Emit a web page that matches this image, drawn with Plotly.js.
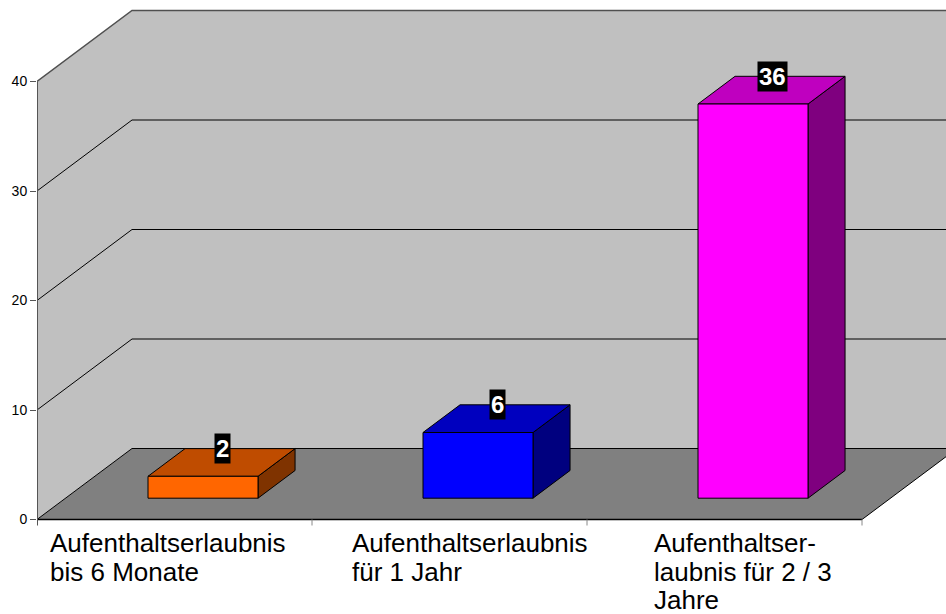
<!DOCTYPE html>
<html>
<head>
<meta charset="utf-8">
<script src="https://cdn.plot.ly/plotly-3.0.1.min.js"></script>
<style>html,body{margin:0;padding:0;background:#fff;}#chart{width:946px;height:614px;}</style>
</head>
<body>
<div id="chart"></div>
<script>
// ---- data ----
const categoryLines = [
  ["Aufenthaltserlaubnis", "bis 6 Monate"],
  ["Aufenthaltserlaubnis", "für 1 Jahr"],
  ["Aufenthaltser-", "laubnis für 2 / 3", "Jahre"]
];
const values = [2, 6, 36];
const yTickVals = [0, 10, 20, 30, 40];
const yMaxValue = 40;

// ---- styles / geometry ----
const frontColors = ["#ff6600", "#0000ff", "#ff00ff"];
const topColors   = ["#bf4c00", "#0000bf", "#bf00bf"];
const sideColors  = ["#7f3300", "#00007f", "#7f007f"];
const W = 946, H = 614;
const marginL = 37;
const catPx = 275;             // px per category on the front plane
const zeroPx = 519.5;          // pixel row of value 0 on front plane
const unitPx = 10.95;          // px per value unit
const depthPxX = 95, depthPxY = 71;
const DX = depthPxX / catPx;   // depth offset in x units
const DY = depthPxY / unitPx;  // depth offset in y units
const xMax = (W - marginL) / catPx;
const yMin = -(H - zeroPx) / unitPx;
const yMax = zeroPx / unitPx;
const nCat = values.length;
const barX0 = 0.3, barX1 = 0.7, barD0 = 0.3, barD1 = 0.69;

function P(x, v, d) { return [x + d * DX, v + d * DY]; }
function poly(pts) {
  const xs = [], ys = [];
  pts.forEach(p => { xs.push(p[0]); ys.push(p[1]); });
  xs.push(pts[0][0]); ys.push(pts[0][1]);
  return {x: xs, y: ys};
}
function face(pts, fill, lineColor, lw) {
  const p = poly(pts);
  return {x: p.x, y: p.y, type: "scatter", mode: "lines", fill: "toself",
          fillcolor: fill, line: {color: lineColor, width: lw}, hoverinfo: "skip", showlegend: false};
}
function path(pts, color, width) {
  const xs = [], ys = [];
  pts.forEach(p => { if (p === null) { xs.push(null); ys.push(null); } else { xs.push(p[0]); ys.push(p[1]); } });
  return {x: xs, y: ys, type: "scatter", mode: "lines", line: {color: color, width: width},
          hoverinfo: "skip", showlegend: false};
}

const traces = [];
// left wall
traces.push(face([P(0,0,0), P(0,yMaxValue,0), P(0,yMaxValue,1), P(0,0,1)], "#c0c0c0", "rgba(0,0,0,0)", 0));
// back wall
traces.push(face([P(0,0,1), P(0,yMaxValue,1), P(nCat,yMaxValue,1), P(nCat,0,1)], "#c0c0c0", "rgba(0,0,0,0)", 0));
// floor
traces.push(face([P(0,0,0), P(nCat,0,0), P(nCat,0,1), P(0,0,1)], "#808080", "rgba(0,0,0,0)", 0));
// gridlines
const gridPts = [];
yTickVals.filter(v => v > 0 && v < yMaxValue).forEach(v => {
  gridPts.push(P(0,v,0), P(0,v,1), P(nCat,v,1), null);
});
traces.push(path(gridPts, "#000", 1));
// top edge
traces.push(path([P(0,yMaxValue,0), P(0,yMaxValue,1), P(nCat,yMaxValue,1)], "#505050", 1.5));
// floor edges
traces.push(path([P(0,0,0), P(0,0,1), P(nCat,0,1), null, P(nCat,0,0), P(nCat,0,1)], "#000", 1));
traces.push(path([P(0,0,0), P(nCat,0,0)], "#000", 1.5));

// bars
values.forEach((v, i) => {
  const x0 = i + barX0, x1 = i + barX1;
  traces.push(face([P(x1,0,barD0), P(x1,0,barD1), P(x1,v,barD1), P(x1,v,barD0)], sideColors[i], "#000", 1));
  traces.push(face([P(x0,v,barD0), P(x1,v,barD0), P(x1,v,barD1), P(x0,v,barD1)], topColors[i], "#000", 1));
  traces.push(face([P(x0,0,barD0), P(x1,0,barD0), P(x1,v,barD0), P(x0,v,barD0)], frontColors[i], "#000", 1));
});

// axis line and category ticks
const tickUnits = 6 / unitPx;
traces.push(path([[0, -tickUnits], P(0,yMaxValue,0)], "#555", 2));
const catTicks = [];
for (let k = 1; k <= nCat; k++) { catTicks.push([k, 0], [k, -tickUnits], null); }
traces.push(path(catTicks, "#888", 1));

// annotations
const annotations = [];
values.forEach((v, i) => {
  const c = P(i + 0.5, v, 0.5);
  annotations.push({
    x: c[0], y: v + barD1 * DY, xref: "x", yref: "y",
    text: "<b>" + v + "</b>", showarrow: false,
    font: {family: "Liberation Sans, Arial, sans-serif", size: 24, color: "#fff"},
    bgcolor: "#000", borderpad: 1, xanchor: "center", yanchor: "middle"
  });
});
const labelLeftPx = [47.5, 349.5, 652];
const labelLine1CenterPx = 543;
const labelLineStepPx = 28.5;
categoryLines.forEach((lines, i) => {
  lines.forEach((t, j) => {
    const py = labelLine1CenterPx + j * labelLineStepPx;
    annotations.push({
      x: (labelLeftPx[i] - marginL) / catPx, xref: "x",
      y: (zeroPx - py) / unitPx, yref: "y",
      text: t, showarrow: false, xanchor: "left", yanchor: "middle",
      font: {family: "Liberation Sans, Arial, sans-serif", size: 26, color: "#000"}
    });
  });
});

const layout = {
  width: W, height: H,
  margin: {l: marginL, r: 0, t: 0, b: 0, pad: 0},
  paper_bgcolor: "#fff", plot_bgcolor: "rgba(0,0,0,0)",
  showlegend: false,
  xaxis: {range: [0, xMax], visible: false, fixedrange: true},
  yaxis: {range: [yMin, yMax], tickvals: yTickVals, ticktext: yTickVals.map(String),
          ticks: "outside", ticklen: 6, tickcolor: "#555", tickwidth: 1,
          showgrid: false, zeroline: false, showline: false, fixedrange: true,
          tickfont: {family: "Liberation Sans, Arial, sans-serif", size: 14, color: "#000"}},
  annotations: annotations
};
Plotly.newPlot("chart", traces, layout, {staticPlot: true, displayModeBar: false});
</script>
</body>
</html>
